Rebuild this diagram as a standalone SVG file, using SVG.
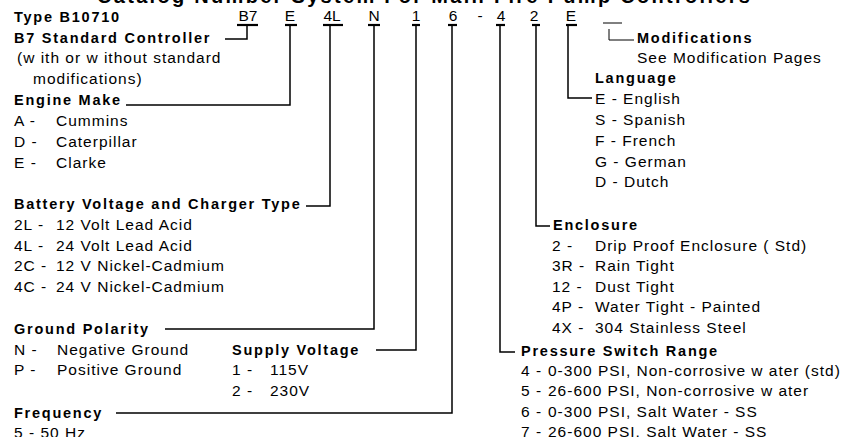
<svg xmlns="http://www.w3.org/2000/svg" width="841" height="437" viewBox="0 0 841 437">
<style>
text{font-family:"Liberation Sans",Arial,sans-serif;fill:#000}
.r{font-size:15.5px;letter-spacing:1px}
.b{font-size:14.5px;font-weight:bold;letter-spacing:1.75px}
.t{font-size:20px;font-weight:bold;letter-spacing:2.3px}
.c{font-size:15.5px;text-anchor:middle}
.ln{fill:none;stroke:#000;stroke-width:1.5}
.ul{stroke:#000;stroke-width:2.2}
</style>
<rect width="841" height="437" fill="#fff"/>
<text class="t" x="97" y="3">Catalog Number System For Main Fire Pump Controllers</text>
<g id="code">
<text class="c" x="248" y="21">B7</text>
<text class="c" x="290" y="21">E</text>
<text class="c" x="332" y="21">4L</text>
<text class="c" x="374" y="21">N</text>
<text class="c" x="416" y="21">1</text>
<text class="c" x="453" y="21">6</text>
<text class="c" x="480" y="21">-</text>
<text class="c" x="501" y="21">4</text>
<text class="c" x="534" y="21">2</text>
<text class="c" x="571" y="21">E</text>
</g>
<g id="connectors">
<line class="ul" x1="237" y1="25" x2="258" y2="25"/>
<line class="ul" x1="285" y1="25" x2="297" y2="25"/>
<line class="ul" x1="323" y1="25" x2="343" y2="25"/>
<line class="ul" x1="368" y1="25" x2="380" y2="25"/>
<line class="ul" x1="412" y1="25" x2="420" y2="25"/>
<line class="ul" x1="448" y1="25" x2="457" y2="25"/>
<line class="ul" x1="496" y1="25" x2="505" y2="25"/>
<line class="ul" x1="532" y1="25" x2="540" y2="25"/>
<line class="ul" x1="566" y1="25" x2="577" y2="25"/>
<line x1="603" y1="23" x2="622" y2="23" stroke="#000" stroke-width="1"/>
<polyline class="ln" points="247,25 247,39 225,39"/>
<polyline class="ln" points="290,25 290,105 126,105"/>
<polyline class="ln" points="330,25 330,206 306,206"/>
<polyline class="ln" points="374,25 374,329 165,329"/>
<polyline class="ln" points="416,25 416,350 376,350"/>
<polyline class="ln" points="452,25 452,413 116,413"/>
<polyline class="ln" points="500,25 500,352 515,352"/>
<polyline class="ln" points="536,25 536,226 550,226"/>
<polyline class="ln" points="568,25 568,98 592,98"/>
<polyline points="609,29 609,40 634,40" fill="none" stroke="#000" stroke-width="1"/>
</g>
<g id="type">
<text class="b" x="14" y="22">Type B10710</text>
</g>
<g id="controller">
<text class="b" x="14" y="43">B7 Standard Controller</text>
<text class="r" x="17" y="63">(w ith or w ithout standard</text>
<text class="r" x="33" y="84">modifications)</text>
</g>
<g id="engine">
<text class="b" x="14" y="105">Engine Make</text>
<text class="r" x="14" y="126">A -</text><text class="r" x="56" y="126">Cummins</text>
<text class="r" x="14" y="147">D -</text><text class="r" x="56" y="147">Caterpillar</text>
<text class="r" x="14" y="168">E -</text><text class="r" x="56" y="168">Clarke</text>
</g>
<g id="battery">
<text class="b" x="14" y="209">Battery Voltage and Charger Type</text>
<text class="r" x="14" y="230">2L -</text><text class="r" x="56" y="230">12 Volt Lead Acid</text>
<text class="r" x="14" y="251">4L -</text><text class="r" x="56" y="251">24 Volt Lead Acid</text>
<text class="r" x="14" y="271">2C -</text><text class="r" x="56" y="271">12 V Nickel-Cadmium</text>
<text class="r" x="14" y="292">4C -</text><text class="r" x="56" y="292">24 V Nickel-Cadmium</text>
</g>
<g id="ground">
<text class="b" x="14" y="334">Ground Polarity</text>
<text class="r" x="14" y="355">N -</text><text class="r" x="57" y="355">Negative Ground</text>
<text class="r" x="14" y="375">P -</text><text class="r" x="57" y="375">Positive Ground</text>
</g>
<g id="supply">
<text class="b" x="232" y="355">Supply Voltage</text>
<text class="r" x="232" y="375">1 -</text><text class="r" x="270" y="375">115V</text>
<text class="r" x="232" y="396">2 -</text><text class="r" x="270" y="396">230V</text>
</g>
<g id="frequency">
<text class="b" x="14" y="418">Frequency</text>
<text class="r" x="14" y="438">5 - 50 Hz</text>
</g>
<g id="modifications">
<text class="b" x="637" y="43">Modifications</text>
<text class="r" x="637" y="63">See Modification Pages</text>
</g>
<g id="language">
<text class="b" x="595" y="83">Language</text>
<text class="r" x="595" y="104">E - English</text>
<text class="r" x="595" y="125">S - Spanish</text>
<text class="r" x="595" y="146">F - French</text>
<text class="r" x="595" y="167">G - German</text>
<text class="r" x="595" y="187">D - Dutch</text>
</g>
<g id="enclosure">
<text class="b" x="553" y="230">Enclosure</text>
<text class="r" x="552" y="251">2 -</text><text class="r" x="595" y="251">Drip Proof Enclosure ( Std)</text>
<text class="r" x="552" y="271">3R -</text><text class="r" x="595" y="271">Rain Tight</text>
<text class="r" x="552" y="292">12 -</text><text class="r" x="595" y="292">Dust Tight</text>
<text class="r" x="552" y="312">4P -</text><text class="r" x="595" y="312">Water Tight - Painted</text>
<text class="r" x="552" y="333">4X -</text><text class="r" x="595" y="333">304 Stainless Steel</text>
</g>
<g id="pressure">
<text class="b" x="521" y="356">Pressure Switch Range</text>
<text class="r" x="521" y="376">4 -</text><text class="r" x="548" y="376">0-300 PSI, Non-corrosive w ater (std)</text>
<text class="r" x="521" y="396">5 -</text><text class="r" x="548" y="396">26-600 PSI, Non-corrosive w ater</text>
<text class="r" x="521" y="417">6 -</text><text class="r" x="548" y="417">0-300 PSI, Salt Water - SS</text>
<text class="r" x="521" y="437">7 -</text><text class="r" x="548" y="437">26-600 PSI, Salt Water - SS</text>
</g>
</svg>
